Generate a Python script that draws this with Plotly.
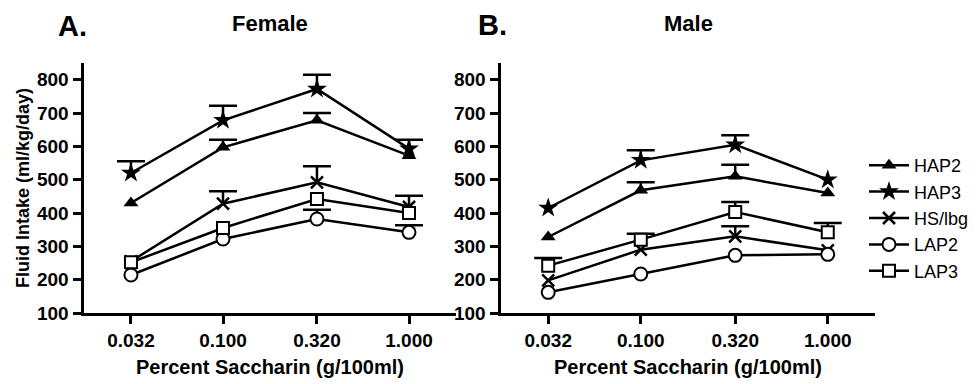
import plotly.graph_objects as go

# ---------------- data ----------------
conc = [0.032, 0.1, 0.32, 1.0]
conc_labels = ["0.032", "0.100", "0.320", "1.000"]
y_ticks = [100, 200, 300, 400, 500, 600, 700, 800]
series_names = ["HAP2", "HAP3", "HS/lbg", "LAP2", "LAP3"]

# Female means and upper SEM (None = not visible)
female_hap2 = [430, 597, 678, 572]
female_hap2_err = [None, 23, 22, None]
female_hap3 = [520, 678, 772, 593]
female_hap3_err = [35, 44, 43, 27]
female_hs = [255, 428, 492, 418]
female_hs_err = [None, 37, 48, 34]
female_lap2 = [214, 322, 382, 342]
female_lap2_err = [None, None, 28, 21]
female_lap3 = [252, 355, 442, 400]
female_lap3_err = [None, None, None, None]

# Male means and upper SEM
male_hap2 = [328, 468, 510, 460]
male_hap2_err = [None, 24, 35, None]
male_hap3 = [415, 558, 605, 500]
male_hap3_err = [None, 30, 28, None]
male_hs = [198, 290, 330, 288]
male_hs_err = [None, None, 30, None]
male_lap2 = [162, 217, 273, 276]
male_lap2_err = [None, None, None, None]
male_lap3 = [242, 320, 403, 342]
male_lap3_err = [23, 18, 30, 28]

female = {
    "HAP2": (female_hap2, female_hap2_err),
    "HAP3": (female_hap3, female_hap3_err),
    "HS/lbg": (female_hs, female_hs_err),
    "LAP2": (female_lap2, female_lap2_err),
    "LAP3": (female_lap3, female_lap3_err),
}
male = {
    "HAP2": (male_hap2, male_hap2_err),
    "HAP3": (male_hap3, male_hap3_err),
    "HS/lbg": (male_hs, male_hs_err),
    "LAP2": (male_lap2, male_lap2_err),
    "LAP3": (male_lap3, male_lap3_err),
}

# ---------------- styles ----------------
BLACK = "#000000"
LW = 2.5
styles = {
    "HAP2": dict(symbol="triangle-up", size=13, color=BLACK, line=dict(color=BLACK, width=0)),
    "HAP3": dict(symbol="star", size=15, color=BLACK, line=dict(color=BLACK, width=0)),
    "HS/lbg": dict(symbol="x-thin-open", size=12, color=BLACK, line=dict(color=BLACK, width=2.5)),
    "LAP2": dict(symbol="circle", size=13, color="white", line=dict(color=BLACK, width=2)),
    "LAP3": dict(symbol="square", size=12, color="white", line=dict(color=BLACK, width=2)),
}

FONT = "Arial, Liberation Sans, Helvetica, sans-serif"

fig = go.Figure()

panels = [(female, "x", "y", True), (male, "x2", "y2", False)]

# error-bar caps first (so markers sit on top)
for data, xa, ya, _ in panels:
    for name in series_names:
        vals, errs = data[name]
        caps = [v + e if e is not None else None for v, e in zip(vals, errs)]
        fig.add_trace(go.Scatter(
            x=conc, y=caps, xaxis=xa, yaxis=ya, mode="markers",
            marker=dict(symbol="line-ew-open", size=20, color=BLACK,
                        line=dict(color=BLACK, width=LW)),
            showlegend=False, hoverinfo="skip",
        ))

# series with error stems
for data, xa, ya, show in panels:
    for name in series_names:
        vals, errs = data[name]
        fig.add_trace(go.Scatter(
            x=conc, y=vals, xaxis=xa, yaxis=ya, mode="lines+markers",
            name=name, legendgroup=name, showlegend=show,
            line=dict(color=BLACK, width=LW),
            marker=styles[name],
            error_y=dict(type="data", symmetric=False,
                         array=[e if e is not None else 0 for e in errs],
                         arrayminus=[0] * len(errs),
                         width=0, thickness=LW, color=BLACK),
        ))

W, H = 980, 384
OFF = 8  # the page body adds an 8 px offset
def px_x(p):
    return (p - OFF) / W
def px_y(p):
    return 1 - (p - OFF) / H

xaxis_common = dict(
    type="log", range=[-1.75, 0.25], tickvals=conc, ticktext=conc_labels,
    showline=True, linewidth=3, linecolor=BLACK, ticks="outside", ticklen=8,
    tickwidth=2.5, tickcolor=BLACK, showgrid=False, zeroline=False,
    automargin=False,
    tickfont=dict(family=FONT, size=19, color=BLACK, weight="bold"),
)
yaxis_common = dict(
    range=[100, 850], tickvals=y_ticks, showline=True, linewidth=3,
    linecolor=BLACK, ticks="outside", ticklen=8, tickwidth=2.5, tickcolor=BLACK,
    showgrid=False, zeroline=False, automargin=False,
    tickfont=dict(family=FONT, size=19, color=BLACK, weight="bold"),
)

fig.update_layout(
    width=W, height=H,
    margin=dict(l=0, r=0, t=0, b=0, pad=0, autoexpand=False),
    paper_bgcolor="white", plot_bgcolor="white",
    xaxis=dict(domain=[px_x(83.5), px_x(455.5)], anchor="y", **xaxis_common),
    yaxis=dict(domain=[px_y(313), px_y(63)], anchor="x", **yaxis_common),
    xaxis2=dict(domain=[px_x(500.5), px_x(874.5)], anchor="y2", **xaxis_common),
    yaxis2=dict(domain=[px_y(313), px_y(63)], anchor="x2", **yaxis_common),
    legend=dict(x=px_x(864), y=px_y(147), xanchor="left", yanchor="top",
                font=dict(family=FONT, size=18, color=BLACK),
                bgcolor="rgba(0,0,0,0)", itemwidth=40, tracegroupgap=0),
    showlegend=True,
)

annots = [
    dict(text="<b>A.</b>", x=px_x(72), y=px_y(26), size=29),
    dict(text="<b>Female</b>", x=px_x(270), y=px_y(24), size=22),
    dict(text="<b>B.</b>", x=px_x(492), y=px_y(25), size=29),
    dict(text="<b>Male</b>", x=px_x(688), y=px_y(23), size=22),
    dict(text="<b>Percent Saccharin (g/100ml)</b>", x=px_x(270), y=px_y(367), size=20),
    dict(text="<b>Percent Saccharin (g/100ml)</b>", x=px_x(688), y=px_y(367), size=20),
]
for a in annots:
    fig.add_annotation(text=a["text"], x=a["x"], y=a["y"], xref="paper", yref="paper",
                       showarrow=False, xanchor="center", yanchor="middle",
                       font=dict(family=FONT, size=a["size"], color=BLACK))
fig.add_annotation(text="<b>Fluid Intake (ml/kg/day)</b>", x=px_x(23), y=px_y(188),
                   xref="paper", yref="paper", showarrow=False, textangle=-90,
                   xanchor="center", yanchor="middle",
                   font=dict(family=FONT, size=18, color=BLACK))

fig.write_html("out.html")
